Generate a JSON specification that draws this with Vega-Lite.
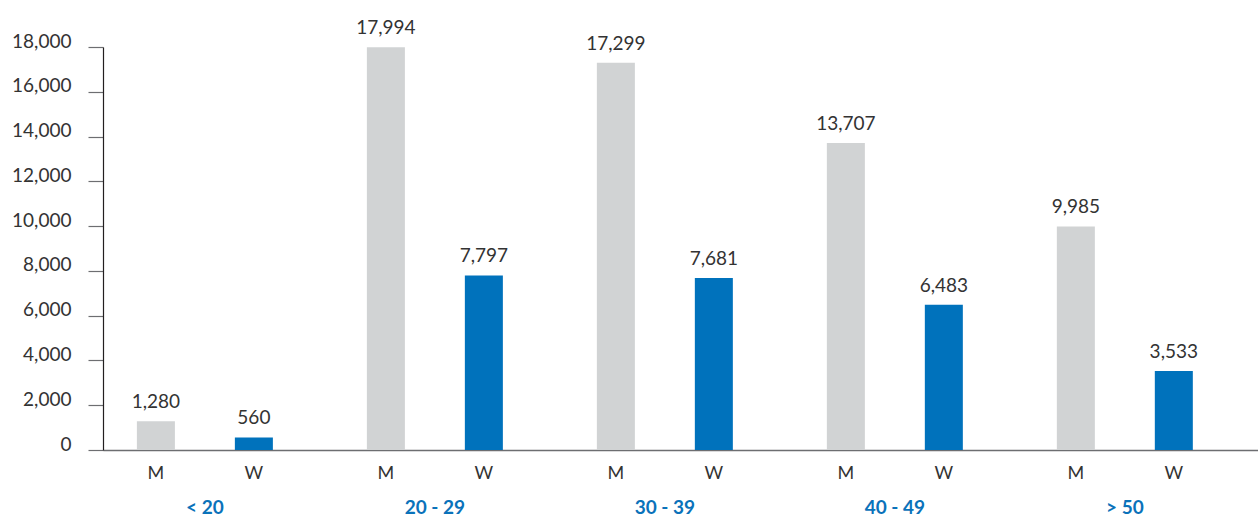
{
  "$schema": "https://vega.github.io/schema/vega-lite/v6.json",
  "width": 1155,
  "height": 403,
  "autosize": {"type": "none"},
  "padding": {"left": 103, "top": 47, "right": 0, "bottom": 68},
  "background": "white",
  "config": {"view": {"stroke": null}, "font": "Lato"},
  "data": {
    "values": [
      {"group": "< 20", "sex": "M", "value": 1280},
      {"group": "< 20", "sex": "W", "value": 560},
      {"group": "20 - 29", "sex": "M", "value": 17994},
      {"group": "20 - 29", "sex": "W", "value": 7797},
      {"group": "30 - 39", "sex": "M", "value": 17299},
      {"group": "30 - 39", "sex": "W", "value": 7681},
      {"group": "40 - 49", "sex": "M", "value": 13707},
      {"group": "40 - 49", "sex": "W", "value": 6483},
      {"group": "> 50", "sex": "M", "value": 9985},
      {"group": "> 50", "sex": "W", "value": 3533}
    ]
  },
  "encoding": {
    "x": {
      "field": "group",
      "type": "nominal",
      "sort": ["< 20", "20 - 29", "30 - 39", "40 - 49", "> 50"],
      "scale": {"paddingInner": 0.148, "paddingOuter": 0.085, "align": 0.1},
      "axis": {
        "title": null,
        "ticks": false,
        "tickSize": 0,
        "labelAngle": 0,
        "labelPadding": 57,
        "labelBaseline": "middle",
        "labelFontSize": 19,
        "labelFontWeight": "bold",
        "labelColor": "#0a72ba",
        "domainColor": "#6d6e71",
        "domainWidth": 1.5
      }
    },
    "xOffset": {
      "field": "sex",
      "type": "nominal",
      "sort": ["M", "W"],
      "scale": {"paddingInner": 0.612, "paddingOuter": 0.306}
    }
  },
  "layer": [
    {
      "mark": {"type": "bar"},
      "encoding": {
        "y": {
          "field": "value",
          "type": "quantitative",
          "scale": {"domain": [0, 18000], "nice": false},
          "axis": {
            "title": null,
            "values": [0, 2000, 4000, 6000, 8000, 10000, 12000, 14000, 16000, 18000],
            "labelExpr": "format(datum.value, ',')",
            "grid": false,
            "domainColor": "#231f20",
            "domainWidth": 1.2,
            "tickColor": "#6d6e71",
            "tickSize": 15,
            "tickWidth": 1.2,
            "labelPadding": 17,
            "labelFontSize": 19,
            "labelColor": "#333333",
            "labelOffset": -6
          }
        },
        "color": {
          "field": "sex",
          "type": "nominal",
          "scale": {"domain": ["M", "W"], "range": ["#d1d3d4", "#0072bc"]},
          "legend": null
        }
      }
    },
    {
      "mark": {"type": "text", "baseline": "alphabetic", "dy": -13, "fontSize": 19, "color": "#333333"},
      "encoding": {
        "y": {"field": "value", "type": "quantitative"},
        "text": {"field": "value", "type": "quantitative", "format": ","}
      }
    },
    {
      "mark": {"type": "text", "baseline": "middle", "dy": 24, "fontSize": 18, "color": "#333333"},
      "encoding": {
        "y": {"datum": 0},
        "text": {"field": "sex", "type": "nominal"}
      }
    }
  ]
}
